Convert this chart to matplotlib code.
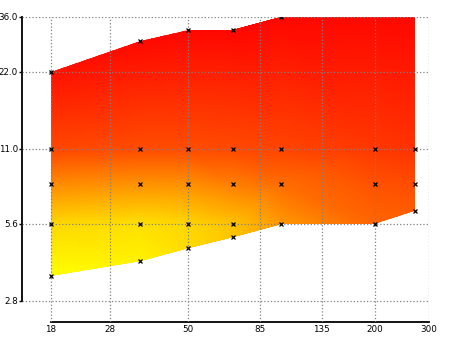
import numpy as np
import matplotlib
matplotlib.use("Agg")
import matplotlib.pyplot as plt
import matplotlib.tri as mtri
from matplotlib.patches import Polygon

# ---- data -------------------------------------------------------------
focal = [18, 35, 50, 70, 100, 200, 270]
f_min = [3.5, 4.0, 4.5, 5.0, 5.6, 5.6, 6.3]
f_max = [22, 29, 32, 32, 36, 40, 40]

# (focal, aperture, score) samples; score 0 = red, 1 = yellow
pt_focal = [18, 18, 18, 18, 18,
            35, 35, 35, 35, 35,
            50, 50, 50, 50, 50,
            70, 70, 70, 70, 70,
            100, 100, 100, 100,
            200, 200, 200, 200,
            270, 270, 270, 270]
pt_aperture = [3.5, 5.6, 8, 11, 22,
               4.0, 5.6, 8, 11, 29,
               4.5, 5.6, 8, 11, 32,
               5.0, 5.6, 8, 11, 32,
               5.6, 8, 11, 36,
               5.6, 8, 11, 40,
               6.3, 8, 11, 40]
pt_score = [1.00, 0.85, 0.55, 0.28, 0.07,
            0.95, 0.88, 0.58, 0.30, 0.04,
            0.86, 0.84, 0.57, 0.30, 0.03,
            0.77, 0.76, 0.50, 0.29, 0.03,
            0.60, 0.43, 0.27, 0.03,
            0.40, 0.32, 0.22, 0.02,
            0.36, 0.30, 0.20, 0.02]

x_ticks = [18, 28, 50, 85, 135, 200, 300]
y_ticks = [2.8, 5.6, 11, 22, 36]

# ---- figure -----------------------------------------------------------
fig = plt.figure(figsize=(4.5, 3.37), dpi=100)
ax = fig.add_axes([22 / 450, 15 / 337, 407 / 450, 305 / 337])
ax.set_xscale("log")
ax.set_yscale("log")

px = np.array(pt_focal, float)
py = np.array(pt_aperture, float)
pz = np.array(pt_score, float)

# linear interpolation of the samples in log-log space (matplotlib.tri)
tlog = mtri.Triangulation(np.log(px), np.log(py))
interp = mtri.LinearTriInterpolator(tlog, pz)
gx = np.linspace(np.log(min(focal)), np.log(max(focal)), 400)
gy = np.linspace(np.log(min(f_min)), np.log(max(f_max)), 400)
GX, GY = np.meshgrid(gx, gy)
GZ = interp(GX, GY)

mesh = ax.pcolormesh(np.exp(GX), np.exp(GY), GZ, shading="gouraud",
                     cmap="autumn", vmin=0, vmax=1, zorder=1,
                     rasterized=True)

outline = list(zip(focal, f_max)) + list(zip(focal[::-1], f_min[::-1]))
poly = Polygon(outline, closed=True, transform=ax.transData,
               facecolor="none", edgecolor="none")
mesh.set_clip_path(poly)

ax.plot(px, py, linestyle="none", marker="x", markersize=2.6,
        markeredgewidth=0.9, color="black", zorder=4)

ax.set_xlim(14.51, 300)
ax.set_ylim(2.318, 36)

ax.grid(True, which="major", linestyle=":", color="#808080", linewidth=0.9)
ax.set_axisbelow(False)

ax.set_xticks(x_ticks)
ax.set_xticklabels([str(v) for v in x_ticks])
ax.set_yticks(y_ticks)
ax.set_yticklabels(["%.1f" % v for v in y_ticks])
ax.minorticks_off()
ax.tick_params(axis="y", length=2, width=1, pad=1, labelsize=6.3, colors="black")
ax.tick_params(axis="x", length=0, pad=2, labelsize=6.3, colors="black")

for s in ("top", "right"):
    ax.spines[s].set_visible(False)
ax.spines["left"].set_bounds(2.8, 36)
ax.spines["bottom"].set_bounds(18, 300)
ax.spines["left"].set_linewidth(1.3)
ax.spines["bottom"].set_linewidth(1.3)

fig.savefig("out.png", dpi=100)
